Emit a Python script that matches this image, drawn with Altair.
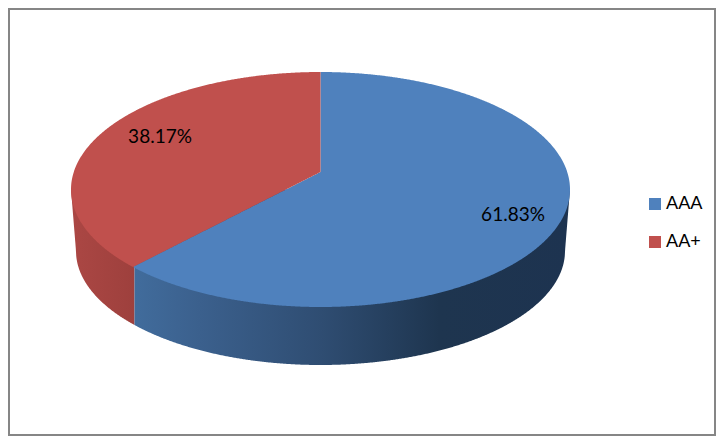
import altair as alt
import numpy as np
import pandas as pd

# values
categories = ["AAA", "AA+"]
shares = [61.83, 38.17]
share_labels = ["61.83%", "38.17%"]
label_x = [513, 160]
label_y = [215, 137]
slice_colors = ["#4F81BD", "#C0504D"]

# picture-space geometry of the tilted pie (scale domains are page pixels)
top_ellipse = dict(cx=320.5, cy=189.5, a=249.5, b=117.5)
bottom_ellipse = dict(cx=320.5, cy=251.0, a=244.5, b=114.0)
vertex = (320.5, 172.0)
split_x = 133.0  # where the boundary between slices meets the rim

W, H = 708, 428
xs = alt.Scale(domain=[8, 716], range=[0, W], nice=False, zero=False)
ys = alt.Scale(domain=[436, 8], range=[H, 0], nice=False, zero=False)
X = lambda f: alt.X(f, type="quantitative", scale=xs, axis=None)
Y = lambda f: alt.Y(f, type="quantitative", scale=ys, axis=None)


def rim(x, e, sign):
    d = np.clip((x - e["cx"]) / e["a"], -1, 1)
    return e["cy"] + sign * e["b"] * np.sqrt(1 - d ** 2)


grid = top_ellipse["cx"] - top_ellipse["a"] * np.cos(np.linspace(0, np.pi, 721))
split_y = rim(np.array([split_x]), top_ellipse, 1)[0]
front_y = top_ellipse["cy"] + top_ellipse["b"]
back_y = top_ellipse["cy"] - top_ellipse["b"]


def chord(x):
    return vertex[1] + (x - vertex[0]) * (split_y - vertex[1]) / (split_x - vertex[0])


# top face: blue slice
bx = grid[(grid > split_x) & (grid < vertex[0])]
rx = grid[grid > vertex[0] + 0.02]
blue = pd.DataFrame({
    "x": np.r_[split_x, bx, vertex[0], vertex[0] + 0.01, rx],
    "y": np.r_[split_y, chord(bx), vertex[1], back_y, rim(rx, top_ellipse, -1)],
    "y2": np.r_[split_y, rim(bx, top_ellipse, 1), front_y, front_y, rim(rx, top_ellipse, 1)],
})
blue["slice"] = categories[0]

# top face: red slice
lx = grid[grid < split_x]
mx = grid[(grid > split_x) & (grid < vertex[0])]
red = pd.DataFrame({
    "x": np.r_[lx, split_x, mx, vertex[0]],
    "y": np.r_[rim(lx, top_ellipse, -1), rim(np.array([split_x]), top_ellipse, -1)[0], rim(mx, top_ellipse, -1), back_y],
    "y2": np.r_[rim(lx, top_ellipse, 1), split_y, chord(mx), vertex[1]],
})
red["slice"] = categories[1]
faces = pd.concat([blue, red])


# side wall
def wall(x):
    y2 = rim(x, bottom_ellipse, 1)
    left = bottom_ellipse["cx"] - bottom_ellipse["a"]
    right = bottom_ellipse["cx"] + bottom_ellipse["a"]
    t0, c0 = top_ellipse["cx"] - top_ellipse["a"], top_ellipse["cy"]
    t1 = top_ellipse["cx"] + top_ellipse["a"]
    c1 = bottom_ellipse["cy"]
    y2 = np.where(x < left, c0 + (x - t0) / (left - t0) * (c1 - c0), y2)
    y2 = np.where(x > right, c0 + (t1 - x) / (t1 - right) * (c1 - c0), y2)
    return pd.DataFrame({"x": x, "y": top_ellipse["cy"], "y2": y2})


side_split = split_x + 1.5
red_wall = wall(np.r_[grid[grid < side_split], side_split])
blue_wall = wall(np.r_[side_split, grid[grid > side_split]])


def grad(stops):
    return alt.Gradient(
        gradient="linear", x1=0, x2=1, y1=0, y2=0,
        stops=[alt.GradientStop(offset=o, color=c) for o, c in stops],
    )


red_side = alt.Chart(red_wall).mark_area(
    color=grad([(0, "#AB4744"), (1, "#9E403D")])
).encode(x=X("x"), y=Y("y"), y2="y2")

blue_side = alt.Chart(blue_wall).mark_area(
    color=grad([(0, "#416C9C"), (0.15, "#3B608D"), (0.43, "#2F4D72"), (0.7, "#1E354F"), (1, "#1D3350")])
).encode(x=X("x"), y=Y("y"), y2="y2")

top = alt.Chart(faces).mark_area().encode(
    x=X("x"),
    y=Y("y"),
    y2="y2",
    color=alt.Color(
        "slice:N",
        scale=alt.Scale(domain=categories, range=slice_colors),
        sort=categories,
        legend=alt.Legend(
            title=None, orient="none", legendX=638, legendY=187,
            symbolType="square", symbolSize=144, symbolStrokeWidth=0, symbolOpacity=1,
            labelFont="Lato", labelFontSize=18, labelColor="#000000",
            labelOffset=2, rowPadding=20, padding=0,
        ),
    ),
)

labels = alt.Chart(pd.DataFrame({"x": label_x, "y": label_y, "t": share_labels})).mark_text(
    font="Lato", fontSize=19, color="#000000", align="center", baseline="middle"
).encode(x=X("x"), y=Y("y"), text="t:N")

frame = alt.Chart(pd.DataFrame({"x": [9], "x2": [715], "y": [9], "y2": [435]})).mark_rect(
    fill=None, stroke="#868686", strokeWidth=2
).encode(x=X("x"), x2="x2", y=Y("y"), y2="y2")

chart = alt.layer(frame, red_side, blue_side, top, labels).properties(
    width=W, height=H, padding=0, autosize=alt.AutoSizeParams(type="none"),
    background="#FFFFFF",
).configure_view(stroke=None)

chart.save("out.html", embed_options={"renderer": "svg", "actions": False})
